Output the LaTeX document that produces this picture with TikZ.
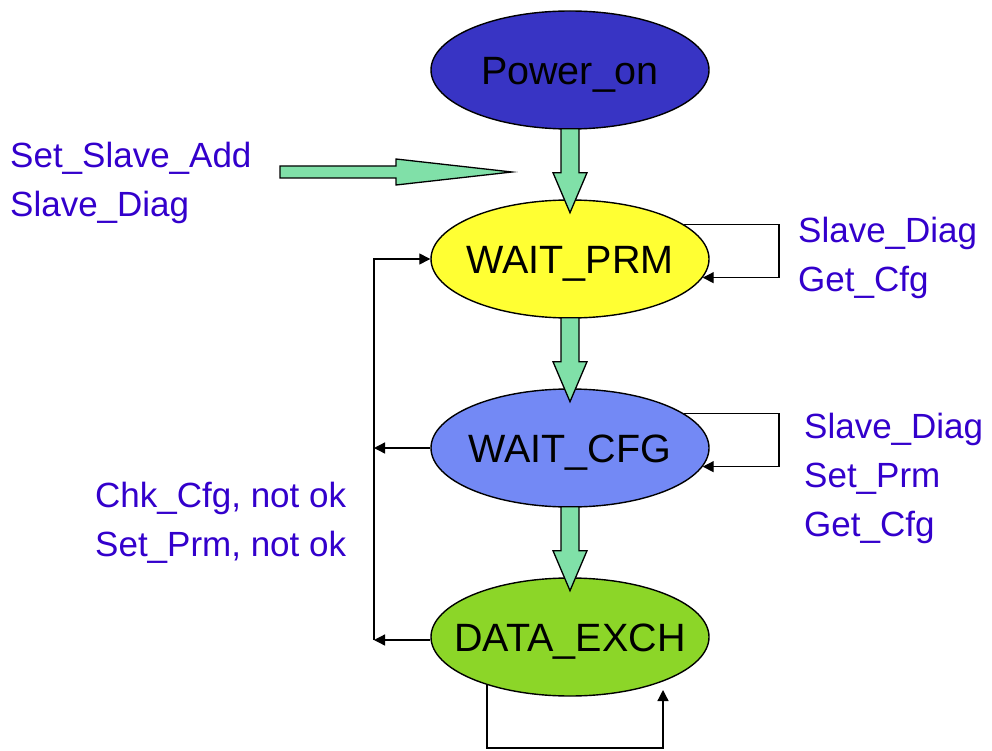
\documentclass[tikz,border=0pt]{standalone}
\usepackage{fontspec}
\setmainfont{Liberation Sans}
\usetikzlibrary{calc,arrows.meta,shapes.geometric}
\definecolor{pwr}{RGB}{56,52,196}
\definecolor{prmc}{RGB}{255,255,51}
\definecolor{cfgc}{RGB}{115,137,245}
\definecolor{dexc}{RGB}{140,214,40}
\definecolor{blkgreen}{RGB}{128,224,168}
\definecolor{lbl}{RGB}{51,0,204}
\tikzset{
  state/.style={ellipse, draw=black, line width=1.4pt, minimum width=278pt, minimum height=118pt, inner sep=0pt, font=\fontsize{39.5}{46}\selectfont, text=black, text height=28.4pt, text depth=0pt},
  blockarrow/.style={draw=black, fill=blkgreen, line width=1.3pt, line join=miter},
  thinarrow/.style={draw=black, line width=1.3pt, -{Triangle[length=11pt,width=11pt]}},
  lab/.style={anchor=base west, inner sep=0pt, text=lbl, font=\fontsize{35}{43}\selectfont}
}
\begin{document}
\begin{tikzpicture}[x=1pt,y=-1pt]
\useasboundingbox (0,0) rectangle (992,751);
\node[state, fill=pwr]  (pwr) at (570,70)  {\makebox[0pt]{Power\_on}};
\node[state, fill=prmc] (prm) at (570,259) {\makebox[0pt]{WAIT\_PRM}};
\node[state, fill=cfgc] (cfg) at (570,448) {\makebox[0pt]{WAIT\_CFG}};
\node[state, fill=dexc] (dex) at (570,637) {\makebox[0pt]{DATA\_EXCH}};
% block arrows between states
\foreach \a in {pwr,prm,cfg}{
  \draw[blockarrow] ($(\a.south)+(-9,-1)$) -- ($(\a.south)+(-9,43)$) -- ($(\a.south)+(-17,43)$)
    -- ($(\a.south)+(0,83)$) -- ($(\a.south)+(17,43)$) -- ($(\a.south)+(9,43)$) -- ($(\a.south)+(9,-1)$) -- cycle;
}
% horizontal block arrow
\coordinate (ht) at (512,172);
\draw[blockarrow] (280,166) -- (396,166) -- (396,159) -- (ht) -- (396,185) -- (396,178) -- (280,178) -- cycle;
% left return line
\coordinate (lt) at (374,259);
\coordinate (lb) at (374,640);
\draw[thinarrow] (dex.west |- lb) -- (lb);
\draw[thinarrow] (lb) -- (lt) -- (prm.west);
\draw[thinarrow] (cfg.west) -- (cfg.west -| lb);
% self loops
\coordinate (rp) at (779,0);
\draw[thinarrow] (prm.17) -- (prm.17 -| rp) |- (prm.-8);
\draw[thinarrow] (cfg.17) -- (cfg.17 -| rp) |- (cfg.-8);
\coordinate (dbl) at (488,748);
\coordinate (dtip) at (663,690);
\draw[thinarrow] (dex.210) -- (dex.210 |- dbl) -| (dtip);
% labels
\node[lab] (l1a) at (10,168) {Set\_Slave\_Add};
\node[lab] (l1b) at (10,217) {Slave\_Diag};
\node[lab] (l2a) at (798,242) {Slave\_Diag};
\node[lab] (l2b) at (798,291) {Get\_Cfg};
\node[lab] (l3a) at (804,438) {Slave\_Diag};
\node[lab] (l3b) at (804,487) {Set\_Prm};
\node[lab] (l3c) at (804,536) {Get\_Cfg};
\node[lab] (l4a) at (95,507) {Chk\_Cfg, not ok};
\node[lab] (l4b) at (95,556) {Set\_Prm, not ok};
\end{tikzpicture}
\end{document}
